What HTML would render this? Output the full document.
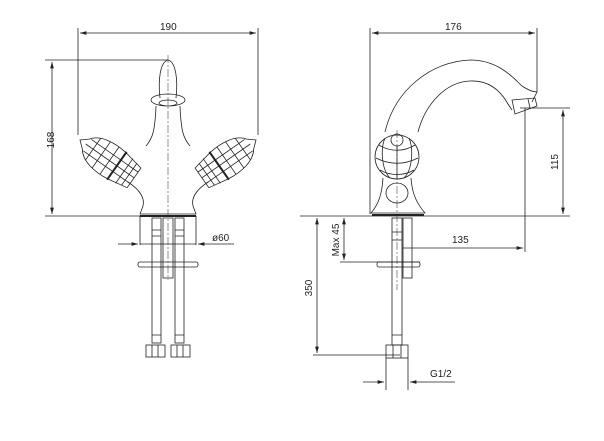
<!DOCTYPE html>
<html><head><style>body{margin:0;background:#fff}svg{display:block}text{font-family:"Liberation Sans",sans-serif;font-size:10px;fill:#222}</style></head><body>
<svg width="604" height="441" viewBox="0 0 604 441" xmlns="http://www.w3.org/2000/svg">
<defs><marker id="a" viewBox="0 0 10 6" refX="10" refY="3" markerWidth="8" markerHeight="5" orient="auto-start-reverse"><path d="M0,0L10,3L0,6z" fill="#222"/></marker>
<g id="h" stroke="#222" stroke-width="0.8" fill="none">
<path d="M0,0 L7,-6 C14,-16 30,-18 45,-16 L66,-12 L66,12 L45,16 C30,18 14,16 7,6 Z"/>
<path d="M16,-13 L16,13 M26,-16 L26,16 M36,-17 L36,17 M54,-15 L54,15 M60,-13 L60,13 M9,-7 L66,-7 M7,0 L66,0 M9,7 L66,7"/>
<line x1="45" y1="-17" x2="45" y2="17" stroke-width="2"/>
</g></defs>
<g stroke="#222" stroke-width="0.8" fill="none">
<!-- LEFT VIEW dims -->
<line x1="78" y1="28" x2="78" y2="135"/><line x1="258" y1="28" x2="258" y2="135"/>
<line x1="80" y1="33" x2="256" y2="33" marker-start="url(#a)" marker-end="url(#a)"/>
<line x1="45" y1="60" x2="168" y2="60"/><line x1="45" y1="216" x2="140" y2="216"/>
<line x1="52" y1="62" x2="52" y2="214" marker-start="url(#a)" marker-end="url(#a)"/>
<line x1="118" y1="244" x2="138" y2="244" marker-end="url(#a)"/><line x1="234" y1="244" x2="198" y2="244" marker-end="url(#a)"/>
<line x1="140" y1="244" x2="196" y2="244"/>
<line x1="168" y1="55" x2="168" y2="280" stroke-dasharray="8 2 2 2" stroke-width="0.5"/>
<!-- left faucet body -->
<path d="M160,98 C158,80 160,62 168,60 C176,62 178,80 176,98"/>
<ellipse cx="168" cy="100" rx="17" ry="6"/><ellipse cx="168" cy="103" rx="9" ry="3"/>
<path d="M156,106 C155,130 153,138 146,146 M180,106 C181,130 183,138 190,146"/>
<path d="M128,182 C140,190 145,198 143,206 L140,214 L196,214 L193,206 C191,198 196,190 208,182"/>
<line x1="140" y1="216" x2="196" y2="216" stroke-width="2"/>
</g>
<use href="#h" transform="translate(80,140) rotate(35)"/>
<use href="#h" transform="translate(256,140) scale(-1,1) rotate(35)"/>
<g stroke="#222" stroke-width="0.8" fill="none">
<!-- below deck left -->
<line x1="140" y1="216" x2="140" y2="245"/><line x1="196" y1="216" x2="196" y2="245"/>
<rect x="138" y="262" width="60" height="5" rx="2"/>
<rect x="152" y="218" width="9" height="125"/><rect x="175" y="218" width="9" height="125"/>
<rect x="163" y="218" width="10" height="60"/>
<path d="M152,230 h9 M152,236 h9 M175,230 h9 M175,236 h9 M152,335 h9 M175,335 h9"/>
<rect x="146" y="345" width="19" height="12"/><rect x="171" y="345" width="19" height="12"/>
<path d="M152,345 v12 M158,345 v12 M177,345 v12 M183,345 v12"/>
<!-- RIGHT VIEW dims -->
<line x1="370" y1="28" x2="370" y2="214"/><line x1="537" y1="28" x2="537" y2="92"/>
<line x1="372" y1="33" x2="535" y2="33" marker-start="url(#a)" marker-end="url(#a)"/>
<line x1="300" y1="216" x2="570" y2="216"/>
<line x1="520" y1="108" x2="570" y2="108"/>
<line x1="563" y1="110" x2="563" y2="214" marker-start="url(#a)" marker-end="url(#a)"/>
<line x1="525" y1="108" x2="525" y2="252"/>
<line x1="402" y1="248" x2="523" y2="248" marker-end="url(#a)"/>
<line x1="340" y1="262" x2="420" y2="262"/>
<line x1="344" y1="218" x2="344" y2="260" marker-start="url(#a)" marker-end="url(#a)"/>
<line x1="313" y1="355" x2="400" y2="355"/>
<line x1="317" y1="218" x2="317" y2="353" marker-start="url(#a)" marker-end="url(#a)"/>
<line x1="386" y1="358" x2="386" y2="390"/><line x1="408" y1="358" x2="408" y2="390"/>
<line x1="363" y1="382" x2="384" y2="382" marker-end="url(#a)"/><line x1="455" y1="382" x2="410" y2="382" marker-end="url(#a)"/>
<line x1="397" y1="130" x2="397" y2="290" stroke-dasharray="8 2 2 2" stroke-width="0.5"/>
<!-- spout -->
<path d="M385,132 C395,90 430,62 470,60 C500,60 515,80 522,86 C528,90 533,92 537,92 L532,102"/>
<path d="M418,132 C425,105 445,82 470,81 C492,80 503,95 508,104 L512,110"/>
<path d="M512,100 L535,98 L537,106 L515,114Z M528,99 L530,108"/>
<!-- handle -->
<circle cx="397" cy="157" r="22"/><circle cx="397" cy="140" r="6"/>
<path d="M379,145 C390,152 404,152 415,145 M376,158 C390,165 404,165 418,158 M380,170 C390,176 404,176 414,170 M385,138 C380,150 382,170 390,178 M409,138 C414,150 412,170 404,178 M397,146 L397,179"/>
<path d="M383,178 C382,195 378,205 371,213 L425,213 C418,205 412,195 411,178"/>
<ellipse cx="397" cy="193" rx="11" ry="10"/>
<line x1="372" y1="215" x2="424" y2="215" stroke-width="2"/>
<!-- below deck right -->
<rect x="377" y="262" width="43" height="5" rx="2"/>
<rect x="392" y="218" width="10" height="127"/><rect x="403" y="218" width="9" height="60"/>
<path d="M392,232 h10 M392,240 h10 M392,335 h10"/>
<rect x="386" y="345" width="22" height="13"/><path d="M393,345 v13 M401,345 v13"/>
</g>
<g>
<text x="160" y="30">190</text>
<text x="46" y="148" transform="rotate(-90 46 140)" text-anchor="middle">168</text>
<text x="212" y="241">ø60</text>
<text x="445" y="30">176</text>
<text x="558" y="162" transform="rotate(-90 558 162)" text-anchor="middle">115</text>
<text x="452" y="243">135</text>
<text x="339" y="240" transform="rotate(-90 339 240)" text-anchor="middle">Max 45</text>
<text x="312" y="288" transform="rotate(-90 312 288)" text-anchor="middle">350</text>
<text x="430" y="377">G1/2</text>
</g>
</svg>
</body></html>
